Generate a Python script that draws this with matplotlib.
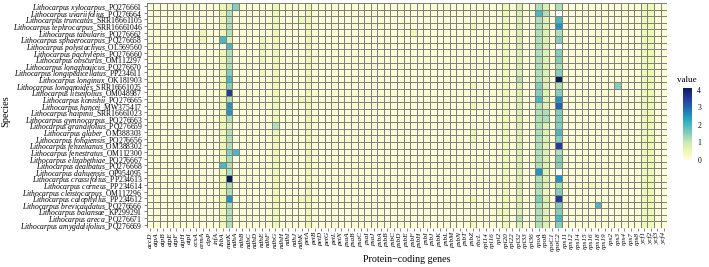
import numpy as np
import matplotlib
matplotlib.use("Agg")
import matplotlib.pyplot as plt

plt.rcParams["font.family"] = ["Liberation Serif", "DejaVu Serif"]
plt.rcParams["mathtext.fontset"] = "custom"
plt.rcParams["mathtext.it"] = "Liberation Serif:italic"
plt.rcParams["mathtext.rm"] = "Liberation Serif"

# species (top to bottom) and accession numbers
species = [
    "xylocarpus", "uvariifolius", "truncatus", "tephrocarpus", "tabularis",
    "sphaerocarpus", "polystachyus", "pachylepis", "obscurus", "longzhouicus",
    "longipedicellatus", "longinux", "longanoides", "litseifolius", "konishii",
    "hancei", "haipinii", "gymnocarpus", "grandifolius", "glaber", "fohaiensis",
    "fenzelianus", "fenestratus", "elizabethiae", "dealbatus", "dahuensis",
    "crassifolius", "corneus", "cleistocarpus", "calophyllus", "brevicaudatus",
    "balansae", "areca", "amygdalifolius",
]
accessions = [
    "PQ276661", "PQ276664", "SRR16661105", "SRR16661046", "PQ276662",
    "PQ276658", "OL569560", "PQ276660", "OM112297", "PQ276670",
    "PP234611", "OK181903", "SRR16661025", "OM048987", "PQ276665",
    "MW375417", "SRR16661023", "PQ276663", "PQ276659", "OM388303", "PQ276656",
    "OM388302", "OM112300", "PQ276667", "PQ276668", "OP954095",
    "PP234613", "PP234614", "OM112296", "PP234612", "PQ276666",
    "KP299291", "PQ276671", "PQ276669",
]

genes = [
    "accD", "atpA", "atpB", "atpE", "atpF", "atpH", "atpI", "ccsA", "cemA", "clpP",
    "infA", "lhbA", "matK", "ndhA", "ndhB", "ndhC", "ndhD", "ndhE", "ndhF", "ndhG",
    "ndhH", "ndhI", "ndhJ", "ndhK", "petA", "petB", "petD", "petG", "petL", "petN",
    "psaA", "psaB", "psaC", "psaI", "psaJ", "psbA", "psbB", "psbC", "psbD", "psbE",
    "psbF", "psbH", "psbI", "psbJ", "psbK", "psbL", "psbM", "psbN", "psbT", "psbZ",
    "rbcL", "rpl14", "rpl16", "rpl2", "rpl20", "rpl22", "rpl32", "rpl33", "rpl36",
    "rpoA", "rpoB", "rpoC1", "rpoC2", "rps11", "rps12", "rps14", "rps15", "rps16",
    "rps18", "rps19", "rps2", "rps3", "rps4", "rps7", "rps8", "ycf1", "ycf2", "ycf3",
    "ycf4",
]

# values, one code per cell ('-' = missing)
levels = {"0": 0.05, "1": 0.45, "2": 0.75, "3": 1.2, "4": 1.5, "5": 2.0,
          "6": 2.5, "7": 3.0, "8": 3.5, "9": 4.1, "-": np.nan}
rows = [
    "0000000000 0124000001 0000100000 0000000000 0000000000 0000102003 2030000000 000001100",
    "0000000000 0130000001 0000100000 0000000000 0000000000 0000102005 30-0000000 000001100",
    "0000000000 0130000001 0001100000 0000000000 0000000000 0000102003 2050000000 000001100",
    "0000000000 0130000001 0000100000 0000000000 0000000001 0000102003 2060000000 000001100",
    "0000000010 0130000001 0000100000 0000000000 1000000000 0000102003 2030000000 000001100",
    "0000000010 0520000101 0000100000 0000000000 0000000000 0000102003 2040000010 000001100",
    "0000000000 0050000101 0000100000 0000000000 0000000000 0000102003 20-0000000 000001100",
    "0000000000 0130000101 0000100000 0000000000 0000000000 0000102003 2040000000 000001100",
    "0000000000 0130000101 0000100000 0000000000 0000000000 0000102003 2040000000 000001100",
    "0000000000 0130000001 0000100000 0000000000 0000000000 0000102003 2030000000 000001100",
    "0000000000 0140000101 0000100000 0000000000 0000000000 0000102003 2040000000 000001100",
    "0000000000 0150000001 0000100000 0000000000 0000000000 0000103003 2090000000 000001100",
    "0000000000 0140000001 0000100000 0000000000 0000000001 0000102004 2030000000 040001100",
    "0000000000 0180000001 0000100000 0000000000 0000000000 0000102004 2040000000 000001100",
    "0000000000 0130000001 0001100000 0000000000 0000000000 0000102005 2060000000 000001100",
    "0000000000 0160000001 0000100000 0000000000 0000000001 0000102003 2070000000 000001100",
    "0000000000 0160000001 0000100000 0000000000 0000000000 0000102003 3040000000 000001100",
    "0000000000 0130000001 0000100000 0000000000 0000000000 0000102003 3040000000 000001100",
    "0000000000 0120000003 0000100000 0000000000 0000000000 0000102003 2040000000 000001100",
    "0000000000 0130000001 0000100000 0000000000 0000000001 0000102003 2050000000 000001100",
    "0000000000 0130000001 0000100000 0000000000 0000000001 0000102003 2040000000 000001100",
    "0000000000 0130000001 0000100000 0000000000 0000000000 0000102003 2080000000 000001100",
    "0000000000 0145000001 0000100000 0000000000 0000000000 0000102003 2030000000 000001100",
    "0000000000 0130000001 0000100000 0000000000 0000000000 0000102003 2040000000 000001100",
    "0000000000 0530000001 0000100000 0000000000 0000000000 0000102003 2040000000 000001100",
    "0000000000 0130000001 0000100000 0000000000 0000000000 0000102006 20-0000000 000001100",
    "0000000000 0190000001 0000100000 0000000000 0000000000 0000102003 2060000000 000001100",
    "0000000000 0130000001 0000100000 0000000000 0000000000 0000102003 2030000100 000001100",
    "0000000000 0130000001 0000100000 0000000000 0000000000 0000102003 1040000000 000001100",
    "0000000000 0160000001 0001100000 0000000000 0000000001 0000102004 2080000000 000001100",
    "0000000000 0130000001 0000100000 0000000000 0000000000 0000102003 2040000050 000001100",
    "0000000000 0130000001 0000100000 0000000000 0000000000 0001102003 2040000000 000001100",
    "0000000000 0130000001 0000100000 0000000000 0000000000 0000103003 2050000000 000001100",
    "0000000000 0130000001 0000100000 0000000000 0000000001 0000102003 2040000000 000001100",
]

values = np.array([[levels[c] for c in r.replace(" ", "")] for r in rows])
data = np.ma.masked_invalid(values)

fig = plt.figure(figsize=(7.09, 2.67), dpi=100)
ax = fig.add_axes([0.207, 0.146, 0.734, 0.843])
mesh = ax.pcolormesh(data, cmap="YlGnBu", vmin=0, vmax=4.1,
                     edgecolors="#808080", linewidth=0.6)
ax.set_xlim(0, len(genes))
ax.set_ylim(len(species), 0)
for s in ax.spines.values():
    s.set_visible(False)

ylabels = [r"$\mathit{Lithocarpus\ %s}$_%s" % (sp, acc)
           for sp, acc in zip(species, accessions)]
ax.set_yticks(np.arange(len(species)) + 0.5)
ax.set_yticklabels(ylabels, fontsize=5.5)
ax.set_xticks(np.arange(len(genes)) + 0.5)
ax.set_xticklabels(genes, rotation=90, fontsize=5.2, style="italic")
ax.tick_params(length=2, width=0.5, color="#555555", pad=1)
ax.set_xlabel("Protein\u2212coding genes", fontsize=7.2, labelpad=3)
ax.set_ylabel("Species", fontsize=7.5)
ax.yaxis.set_label_coords(-0.262, 0.52)

cax = fig.add_axes([0.963, 0.401, 0.0127, 0.27])
cb = fig.colorbar(mesh, cax=cax, ticks=[0, 1, 2, 3, 4])
cb.outline.set_visible(False)
cb.ax.tick_params(labelsize=5.5, length=2, width=0.5, color="white", pad=2)
cb.ax.set_title("value", fontsize=6.5, pad=4)

fig.savefig("out.png", dpi=100)
